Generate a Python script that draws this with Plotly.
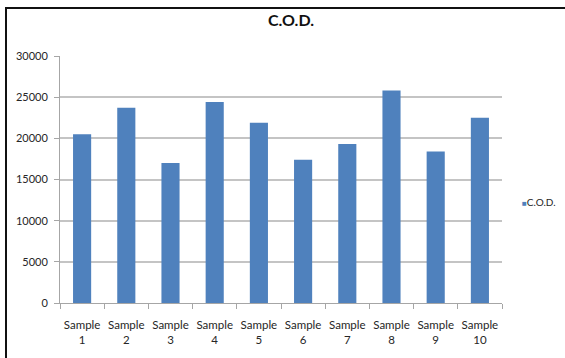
import plotly.graph_objects as go

# C.O.D. per sample
samples = ["Sample 1", "Sample 2", "Sample 3", "Sample 4", "Sample 5",
           "Sample 6", "Sample 7", "Sample 8", "Sample 9", "Sample 10"]
cod_values = [20500, 23700, 17000, 24400, 21900, 17400, 19300, 25800, 18400, 22500]
tick_labels = ["Sample<br>1", "Sample<br>2", "Sample<br>3", "Sample<br>4", "Sample<br>5",
               "Sample<br>6", "Sample<br>7", "Sample<br>8", "Sample<br>9", "Sample<br>10"]
y_ticks = [0, 5000, 10000, 15000, 20000, 25000, 30000]

BAR_BLUE = "#4f81bd"
GRID = "#c4c4c4"
AXIS = "#a6a6a6"
TEXT = "#262626"
FONT = "Lato"

W, H = 565, 358
L, R, T, B = 60, 63, 56, 53
pw, ph = W - L - R, H - T - B


def px_x(p):
    return (p - L) / pw


def px_y(p):
    return (H - B - p) / ph


fig = go.Figure()
fig.add_trace(go.Bar(
    x=samples, y=cod_values, name="C.O.D.",
    marker=dict(color=BAR_BLUE, line=dict(width=0)),
    showlegend=False,
))

fig.update_layout(
    width=W, height=H,
    margin=dict(l=L, r=R, t=T, b=B),
    paper_bgcolor="white", plot_bgcolor="white",
    bargap=0.59,
    font=dict(family=FONT, color=TEXT),
    title=dict(text="<b>C.O.D.</b>", x=291 / W, xref="container", xanchor="center",
               y=1 - 20 / H, yref="container", yanchor="middle",
               font=dict(family=FONT, size=16, color="#111111")),
)

fig.update_xaxes(
    type="category", tickmode="array", tickvals=samples, ticktext=tick_labels,
    showgrid=False, showline=True, linecolor=AXIS, linewidth=1,
    ticks="outside", tickson="boundaries", ticklen=5, tickcolor=AXIS,
    tickfont=dict(family=FONT, size=11.5, color=TEXT), tickangle=0,
    ticklabelstandoff=11,
)
fig.update_yaxes(
    range=[0, 30000], tickmode="array", tickvals=y_ticks,
    ticktext=[str(v) for v in y_ticks],
    showgrid=True, gridcolor=GRID, gridwidth=1.5,
    showline=True, linecolor=AXIS, linewidth=1,
    ticks="outside", ticklen=5, tickcolor=AXIS,
    tickfont=dict(family=FONT, size=11, color=TEXT),
    ticklabelstandoff=4,
    zeroline=False,
)

# legend entry
fig.add_annotation(
    text="<span style='color:%s;font-size:8px'>■</span>C.O.D." % BAR_BLUE,
    xref="paper", yref="paper", x=px_x(520), y=px_y(203),
    xanchor="left", yanchor="middle", showarrow=False,
    font=dict(family=FONT, size=10, color=TEXT),
)

# chart frame (left and top edges)
frame = dict(color="#111111", width=2)
fig.add_shape(type="line", xref="paper", yref="paper",
              x0=px_x(6), x1=px_x(6), y0=px_y(7), y1=px_y(H + 5), line=frame)
fig.add_shape(type="line", xref="paper", yref="paper",
              x0=px_x(5), x1=px_x(W + 5), y0=px_y(7.5), y1=px_y(7.5), line=frame)

fig.write_html("out.html")
